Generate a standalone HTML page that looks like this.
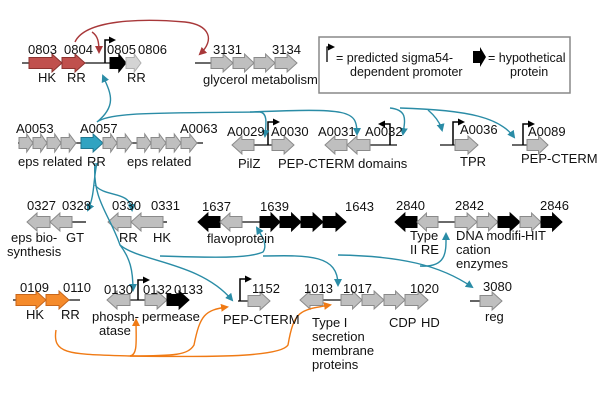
<!DOCTYPE html>
<html><head><meta charset="utf-8"><style>
html,body{margin:0;padding:0;background:#fff;width:600px;height:406px;overflow:hidden}
svg text{font-family:"Liberation Sans",sans-serif;font-size:13px;fill:#111}
</style></head><body>
<svg id="s" width="600" height="406" xmlns="http://www.w3.org/2000/svg">
<defs>
<marker id="mb" markerWidth="8" markerHeight="8" refX="6" refY="4" orient="auto" markerUnits="userSpaceOnUse"><path d="M0,0 L8,4 L0,8 z" fill="#2a8ca6"/></marker>
<marker id="mr" markerWidth="8" markerHeight="8" refX="6" refY="4" orient="auto" markerUnits="userSpaceOnUse"><path d="M0,0 L8,4 L0,8 z" fill="#a8383a"/></marker>
<marker id="mo" markerWidth="8" markerHeight="8" refX="6" refY="4" orient="auto" markerUnits="userSpaceOnUse"><path d="M0,0 L8,4 L0,8 z" fill="#f07a14"/></marker>
<marker id="mk" markerWidth="7" markerHeight="7" refX="5" refY="3.5" orient="auto" markerUnits="userSpaceOnUse"><path d="M0,0 L7,3.5 L0,7 z" fill="#000"/></marker>
</defs>
<g id="lines" stroke="#111" stroke-width="1.3">
<line x1="22" y1="63" x2="110" y2="63"/><line x1="195" y1="63" x2="212" y2="63"/>
<line x1="18" y1="143" x2="203" y2="143"/>
<line x1="254" y1="145" x2="272" y2="145"/><line x1="370" y1="145" x2="397" y2="145"/>
<line x1="440" y1="145" x2="478" y2="145"/><line x1="512" y1="145" x2="548" y2="145"/>
<line x1="72" y1="222" x2="86" y2="222"/><line x1="160" y1="222" x2="167" y2="222"/>
<line x1="242" y1="222" x2="260" y2="222"/><line x1="438" y1="222" x2="455" y2="222"/>
<line x1="13" y1="300" x2="80" y2="300"/><line x1="130" y1="300" x2="150" y2="300"/>
<line x1="238" y1="301" x2="250" y2="301"/><line x1="323" y1="300" x2="341" y2="300"/>
<line x1="470" y1="301" x2="482" y2="301"/>
</g>
<g id="genes"></g>
<g fill="none" stroke="#000" stroke-width="1.5">
<path d="M105,63 V40 H114" marker-end="url(#mk)"/>
<path d="M268,145 V122 H278" marker-end="url(#mk)"/>
<path d="M390,145 V124 H380" marker-end="url(#mk)"/>
<path d="M453,145 V122 H463" marker-end="url(#mk)"/>
<path d="M523,145 V124 H533" marker-end="url(#mk)"/>
<path d="M138,300 V280 H148" marker-end="url(#mk)"/>
<path d="M240,301 V279 H250" marker-end="url(#mk)"/>
</g>
<g fill="none" stroke="#a8383a" stroke-width="1.4">
<path d="M75,42 C85,20 140,18 185,22 C210,25 215,40 200,54" marker-end="url(#mr)"/>
<path d="M92,32 C98,36 99,42 99,52" marker-end="url(#mr)"/>
</g>
<g fill="none" stroke="#2a8ca6" stroke-width="1.4">
<path d="M97,122 C118,105 110,92 103,76" marker-end="url(#mb)"/>
<path d="M97,122 C110,112 160,113 260,112 C268,113 266,125 265,136" marker-end="url(#mb)"/>
<path d="M250,112 C350,108 357,110 357,134" marker-end="url(#mb)"/>
<path d="M390,108 C408,110 405,120 403,134" marker-end="url(#mb)"/>
<path d="M428,110 C435,116 440,122 442,130" marker-end="url(#mb)"/>
<path d="M400,108 C470,110 500,118 514,137" marker-end="url(#mb)"/>
<path d="M97,163 C93,180 95,195 88,210" marker-end="url(#mb)"/>
<path d="M95,185 C105,198 130,190 132,210" marker-end="url(#mb)"/>
<path d="M95,163 C92,200 110,215 120,245 C130,258 133,270 133,290" marker-end="url(#mb)"/>
<path d="M120,245 C140,262 200,262 232,300" marker-end="url(#mb)"/>
<path d="M160,256 C220,258 250,258 263,252 C268,245 262,236 257,228" marker-end="url(#mb)"/>
<path d="M263,256 C310,255 338,255 338,285" marker-end="url(#mb)"/>
<path d="M338,255 C400,256 440,265 472,287" marker-end="url(#mb)"/>
<path d="M420,266 C448,268 446,250 446,234" marker-end="url(#mb)"/>
</g>
<g fill="none" stroke="#f07a14" stroke-width="1.4">
<path d="M56,330 C52,355 70,354 130,356 C138,355 136,340 136,320" marker-end="url(#mo)"/>
<path d="M130,356 C175,356 188,355 194,345 C200,315 205,310 227,307" marker-end="url(#mo)"/>
<path d="M130,356 C200,357 280,358 288,345 C294,310 300,310 330,305" marker-end="url(#mo)"/>
</g>
<rect x="319" y="37" width="251" height="56" fill="none" stroke="#888" stroke-width="1.5"/>
<path d="M327,62 V47 H333" fill="none" stroke="#000" stroke-width="1.3" marker-end="url(#mk)"/>
<polygon points="473,51 480,51 480,47 486,57 480,67 480,63 473,63" fill="#000"/>
<g style="font-size:12.5px">
<text x="336" y="62" style="font-size:12.5px">= predicted sigma54-</text>
<text x="350" y="76" style="font-size:12.5px">dependent promoter</text>
<text x="488" y="62" style="font-size:12.5px">= hypothetical</text>
<text x="510" y="76" style="font-size:12.5px">protein</text>
</g>
<g id="labels">
<text x="28" y="54">0803</text><text x="64" y="54">0804</text><text x="107" y="54">0805</text><text x="138" y="54">0806</text>
<text x="38" y="82">HK</text><text x="67" y="82">RR</text><text x="127" y="82">RR</text>
<text x="213" y="54">3131</text><text x="272" y="54">3134</text>
<text x="203" y="84">glycerol metabolism</text>
<text x="16" y="133">A0053</text><text x="80" y="133">A0057</text><text x="180" y="133">A0063</text>
<text x="18" y="166">eps related</text><text x="87" y="166">RR</text><text x="127" y="166">eps related</text>
<text x="227" y="136">A0029</text><text x="271" y="136">A0030</text>
<text x="238" y="168">PilZ</text><text x="278" y="168">PEP-CTERM domains</text>
<text x="318" y="136">A0031</text><text x="365" y="136">A0032</text>
<text x="460" y="134">A0036</text><text x="460" y="166">TPR</text>
<text x="528" y="136">A0089</text><text x="521" y="163">PEP-CTERM</text>
<text x="27" y="210">0327</text><text x="62" y="210">0328</text>
<text x="11" y="242">eps bio-</text><text x="7" y="256">synthesis</text><text x="66" y="242">GT</text>
<text x="112" y="210">0330</text><text x="151" y="210">0331</text>
<text x="119" y="242">RR</text><text x="153" y="242">HK</text>
<text x="202" y="211">1637</text><text x="260" y="211">1639</text><text x="345" y="211">1643</text>
<text x="207" y="243">flavoprotein</text>
<text x="396" y="210">2840</text><text x="455" y="210">2842</text><text x="540" y="210">2846</text>
<text x="410" y="240">Type</text><text x="410" y="254">II RE</text>
<text x="456" y="240">DNA modifi-</text><text x="456" y="254">cation</text><text x="456" y="268">enzymes</text>
<text x="525" y="240">HIT</text>
<text x="20" y="292">0109</text><text x="63" y="292">0110</text>
<text x="26" y="319">HK</text><text x="61" y="319">RR</text>
<text x="104" y="294">0130</text><text x="143" y="294">0132</text><text x="174" y="294">0133</text>
<text x="92" y="321">phosph-</text><text x="99" y="335">atase</text><text x="142" y="321">permease</text>
<text x="252" y="293">1152</text><text x="223" y="324">PEP-CTERM</text>
<text x="304" y="293">1013</text><text x="343" y="293">1017</text><text x="410" y="293">1020</text>
<text x="312" y="327">Type I</text><text x="312" y="341">secretion</text><text x="312" y="355">membrane</text><text x="312" y="369">proteins</text>
<text x="389" y="327">CDP</text><text x="421" y="327">HD</text>
<text x="483" y="291">3080</text><text x="485" y="321">reg</text>
</g>
</svg>
<script>
var G=document.getElementById('genes'),NS='http://www.w3.org/2000/svg';
var C={g:['#bfbfbf','#8a8a8a'],k:['#000','#000'],r:['#c0504d','#8c3330'],b:['#31a3c1','#1f7790'],o:['#f58a2a','#c8661a'],l:['#d4d4d4','#b0b0b0']};
function gene(x1,x2,y,c,dir){var h=Math.min(10,(x2-x1)*0.45),b=5.5,a=9,p;
if(dir>0)p=[[x1,y-b],[x2-h,y-b],[x2-h,y-a],[x2,y],[x2-h,y+a],[x2-h,y+b],[x1,y+b]];
else p=[[x2,y-b],[x1+h,y-b],[x1+h,y-a],[x1,y],[x1+h,y+a],[x1+h,y+b],[x2,y+b]];
var e=document.createElementNS(NS,'polygon');e.setAttribute('points',p.map(function(q){return q.join(',')}).join(' '));
e.setAttribute('fill',C[c][0]);e.setAttribute('stroke',C[c][1]);e.setAttribute('stroke-width','1');G.appendChild(e);}
var L=[
[29,62,63,'r',1],[62,85,63,'r',1],[110,126,63,'k',1],[126,141,63,'l',1],
[211,233,63,'g',1],[233,254,63,'g',1],[254,275,63,'g',1],[275,297,63,'g',1],
[19,33,143,'g',1],[33,47,143,'g',1],[47,61,143,'g',1],[61,76,143,'g',1],[81,103,143,'b',1],[103,117,143,'g',1],[117,132,143,'g',1],
[137,151,143,'g',1],[151,166,143,'g',1],[166,181,143,'g',1],[181,197,143,'g',1],
[232,254,145,'g',-1],[272,294,145,'g',1],[325,347,145,'g',-1],[347,370,145,'g',-1],[455,478,145,'g',1],[527,548,145,'g',1],
[27,50,222,'g',-1],[50,72,222,'g',-1],[108,131,222,'g',-1],[131,163,222,'g',-1],
[198,220,222,'k',-1],[220,242,222,'g',-1],[260,280,222,'k',1],[280,301,222,'k',1],[301,323,222,'k',1],[323,346,222,'k',1],
[395,417,222,'k',-1],[417,438,222,'g',-1],[455,477,222,'g',1],[477,498,222,'g',1],[498,520,222,'k',1],[520,541,222,'g',1],[541,562,222,'k',1],
[16,46,300,'o',1],[46,69,300,'o',1],[107,130,300,'g',-1],[145,167,300,'g',1],[167,189,300,'k',1],[248,270,301,'g',1],
[300,323,300,'g',-1],[341,362,300,'g',1],[362,384,300,'g',1],[384,405,300,'g',1],[405,428,300,'g',1],[480,502,301,'g',1]];
L.forEach(function(a){gene(a[0],a[1],a[2],a[3],a[4]);});
</script>
</body></html>
